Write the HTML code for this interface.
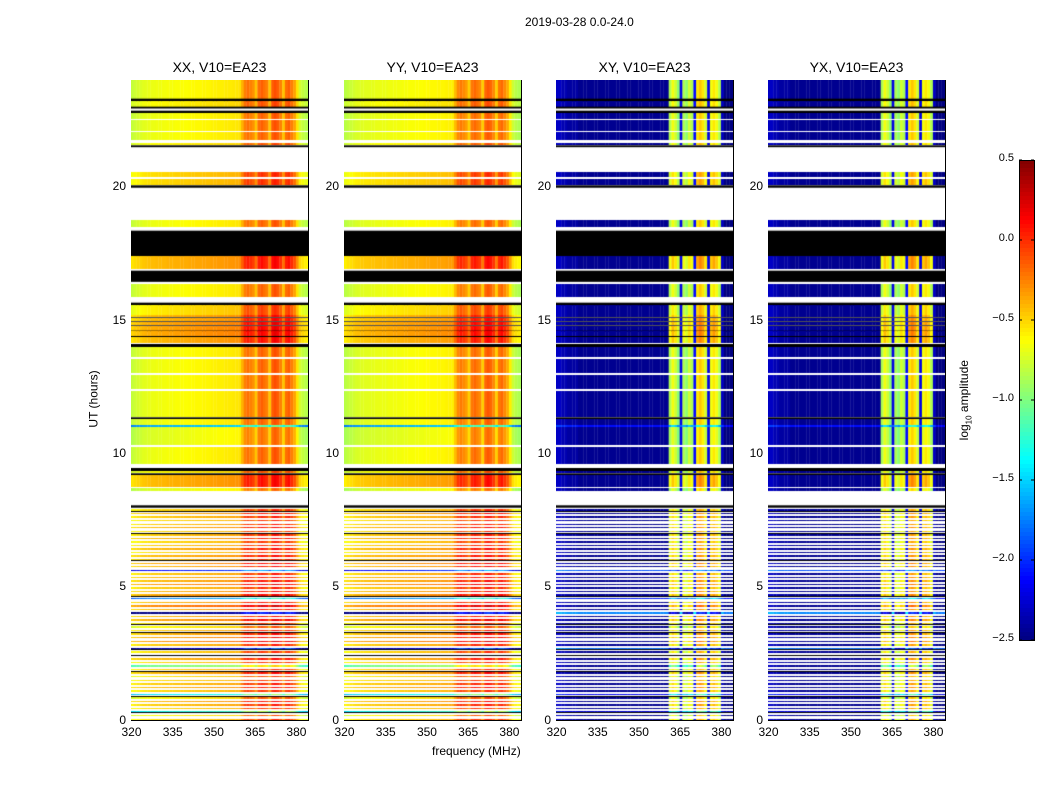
<!DOCTYPE html>
<html><head><meta charset="utf-8"><style>
body{margin:0;background:#fff;width:1050px;height:800px;position:relative;font-family:"Liberation Sans",sans-serif;overflow:hidden}
.t{position:absolute;font-size:12px;color:#000;white-space:nowrap}
canvas{position:absolute}
</style></head><body>
<div class="t" style="left:525px;top:15px">2019-03-28 0.0-24.0</div>
<div class="t" style="left:432px;top:744px">frequency (MHz)</div>
<div class="t" style="left:65px;top:392px;transform:rotate(-90deg)">UT (hours)</div>
<div class="t" style="left:925px;top:392px;transform:rotate(-90deg)">log<sub style="font-size:8px">10</sub> amplitude</div>
<svg id="cb" style="position:absolute;left:0;top:0" width="1050" height="800"></svg>
<script>
// ---- data ----
const panelTitles = ["XX, V10=EA23","YY, V10=EA23","XY, V10=EA23","YX, V10=EA23"];
const freqs = []; for (let f = 320; f <= 384; f++) freqs.push(f);
const freqXX = [-0.85,-0.82,-0.8,-0.78,-0.76,-0.75,-0.74,-0.73,-0.73,-0.72,-0.72,-0.71,-0.71,-0.7,-0.7,-0.7,-0.69,-0.69,-0.68,-0.68,-0.68,-0.67,-0.67,-0.66,-0.66,-0.66,-0.65,-0.65,-0.65,-0.64,-0.64,-0.63,-0.63,-0.63,-0.62,-0.62,-0.62,-0.61,-0.61,-0.6,
 -0.45,-0.3,-0.25,-0.3,-0.35,-0.5,-0.25,-0.2,-0.25,-0.3,-0.5,-0.2,-0.15,-0.2,-0.3,-0.5,-0.25,-0.2,-0.3,-0.4,-0.6,
 -0.8,-0.85,-0.88,-0.9];
const freqXY = [-2.3,-2.3,-2.35,-2.35,-2.4,-2.4,-2.4,-2.4,-2.45,-2.45,-2.45,-2.45,-2.45,-2.45,-2.45,-2.45,-2.45,-2.45,-2.45,-2.45,-2.45,-2.45,-2.45,-2.45,-2.45,-2.45,-2.45,-2.45,-2.45,-2.45,-2.45,-2.45,-2.45,-2.45,-2.45,-2.45,-2.45,-2.45,-2.45,-2.45,
 -2.45,-0.9,-0.7,-0.8,-1.0,-2.2,-0.9,-1.0,-0.8,-0.9,-2.1,-0.6,-0.5,-0.6,-0.8,-2.2,-0.7,-0.6,-0.7,-0.9,-2.3,
 -2.5,-2.5,-2.5,-2.5];
// segments: [hourStart, hourEnd, kind, rowLevel]  kind: d=data, w=white(flagged), k=black
const segments = [
 [23.3,24,'d',0.05],[23.2,23.3,'k',0],[23.0,23.2,'d',0.1],[22.95,23.0,'k',0],[22.85,22.95,'w',0],[22.78,22.85,'k',0],
 [22.55,22.78,'d',0.05],[22.5,22.55,'w',0],[22.1,22.5,'d',0.05],[22.05,22.1,'w',0],[21.75,22.05,'d',0.05],[21.65,21.75,'w',0],[21.55,21.65,'d',0.1],
 [21.5,21.55,'k',0],[20.55,21.5,'w',0],[20.35,20.55,'d',0.2],[20.3,20.35,'w',0],[20.05,20.3,'d',0.2],[19.98,20.05,'k',0],
 [18.75,19.98,'w',0],[18.5,18.75,'d',0.05],[18.35,18.5,'w',0],[17.4,18.35,'k',0],[16.9,17.4,'d',0.3],[16.85,16.9,'w',0],
 [16.45,16.85,'k',0],[16.35,16.45,'w',0],[15.85,16.35,'d',0.05],[15.65,15.85,'w',0],[15.55,15.65,'k',0],[15.2,15.55,'d',0.15],
 [15.1,15.2,'d',0.3],[15.07,15.1,'k',0],[14.95,15.07,'d',0.3],[14.92,14.95,'k',0],[14.8,14.92,'d',0.35],[14.77,14.8,'k',0],
 [14.6,14.77,'d',0.35],[14.57,14.6,'k',0],[14.4,14.57,'d',0.35],[14.37,14.4,'k',0],[14.15,14.37,'d',0.3],[14.1,14.15,'w',0],[14.0,14.1,'k',0],
 [13.6,14.0,'d',0.05],[13.55,13.6,'w',0],[13.0,13.55,'d',0.05],[12.95,13.0,'w',0],[12.4,12.95,'d',0.05],[12.35,12.4,'w',0],
 [11.35,12.35,'d',0.05],[11.3,11.35,'k',0],[11.05,11.3,'d',0.05],[11.0,11.05,'d',-0.9],[10.3,11.0,'d',0.0],[10.25,10.3,'w',0],
 [9.6,10.25,'d',0.05],[9.45,9.6,'w',0],[9.35,9.45,'k',0],[9.25,9.35,'d',0.1],[9.2,9.25,'k',0],[8.75,9.2,'d',0.3],[8.7,8.75,'w',0],[8.6,8.7,'d',0.0],
 [8.05,8.6,'w',0],[7.98,8.05,'k',0]
];
const lowLevels = [0.2,0.1,-0.6,0.2,0.25,0.3,0.1,-0.7,0.2,0.3,0.25,0.2,0.15,0.3,0.2,-0.3,0.2,0.3,0.35,0.2,-1.6,0.25,0.4,0.35,0.3,0.25,0.1,0.2,0.35,0.3,
 -1.8,0.3,0.45,0.3,-1.0,0.35,0.3,0.25,0.4,0.3,0.3,0.25,-1.4,0.3,0.35,0.25,0.3,0.2,0.3,0.25,0.2,0.3,0.25,0.2,0.3,0.25,0.2,0.25,0.3,0.2];
const lowBlack = [0.3,0.9,1.85,2.45,2.65,3.3,3.6,4.65,6.0,7.0,7.85];
const xTicks = [320,335,350,365,380];
const yTicks = [0,5,10,15,20];
const cbTicks = [0.5,0.0,-0.5,-1.0,-1.5,-2.0,-2.5];

// ---- drawing ----
const panelX = [131,344,556,768], PT = 80, PW = 177, PH = 640;
const fMin = 320, fMax = 384.4, hMin = 0, hMax = 24, vMin = -2.5, vMax = 0.5;
const xs = f => (f - fMin) / (fMax - fMin) * PW;
const ys = h => PH - (h - hMin) / (hMax - hMin) * PH;
function jet(v){
  let t = Math.max(0, Math.min(1, (v - vMin) / (vMax - vMin)));
  const c = x => Math.round(255 * Math.max(0, Math.min(1, x)));
  return `rgb(${c(1.5 - Math.abs(4*t - 3))},${c(1.5 - Math.abs(4*t - 2))},${c(1.5 - Math.abs(4*t - 1))})`;
}
function drawRow(ctx, h0, h1, lvl, cross){
  const y0 = Math.round(ys(h1)), y1 = Math.round(ys(h0));
  const hgt = Math.max(1, y1 - y0);
  for (let i = 0; i < freqs.length; i++){
    const v = cross ? freqXY[i] + (freqXY[i] > -1.5 ? lvl * 0.8 : (lvl < -0.5 ? -lvl*0.4 : 0)) : freqXX[i] + lvl;
    ctx.fillStyle = jet(v);
    const xa = xs(freqs[i]), xb = xs(Math.min(freqs[i] + 1, fMax));
    ctx.fillRect(xa, y0, xb - xa + 0.3, hgt);
  }
}
const svgNS = "http://www.w3.org/2000/svg";
const cb = document.getElementById('cb');
panelX.forEach((px, p) => {
  const cross = p >= 2;
  const cv = document.createElement('canvas');
  
  
  cv.width = PW; cv.height = PH;
  cv.style.left = px + 'px'; cv.style.top = PT + 'px';
  document.body.appendChild(cv);
  const ctx = cv.getContext('2d');
  ctx.fillStyle = '#fff'; ctx.fillRect(0,0,PW,PH);
  segments.forEach(s => {
    if (s[2] === 'd') drawRow(ctx, s[0], s[1], s[3] + (p===1 ? -0.03 : 0), cross);
    else if (s[2] === 'k'){ ctx.fillStyle = '#000'; ctx.fillRect(0, ys(s[1]), PW, ys(s[0]) - ys(s[1]) + 0.5); }
  });
  const per = 7.98 / lowLevels.length;
  lowLevels.forEach((l, i) => { drawRow(ctx, i*per, i*per + per*0.4, l, cross); });
  lowBlack.forEach(h => { ctx.fillStyle = '#000'; ctx.fillRect(0, Math.round(ys(h)), PW, 1); });
  // title
  const t = document.createElement('div');
  t.className = 't';
  
  
  t.style.cssText = `left:${px}px;width:${PW}px;text-align:center;top:59px;font-size:14px`;
  t.textContent = panelTitles[p];
  document.body.appendChild(t);
  // frame
  const r = document.createElementNS(svgNS, 'rect');
  
  
  r.setAttribute('x', px + 0.5); r.setAttribute('y', PT + 0.5);
  r.setAttribute('width', PW); r.setAttribute('height', PH);
  r.setAttribute('fill', 'none'); r.setAttribute('stroke', '#000');
  cb.appendChild(r);
  xTicks.forEach(f => {
    const x = px + xs(f) + 0.5;
    [[PT+PH, PT+PH-4],[PT, PT+4]].forEach(([a,b]) => {
      const l = document.createElementNS(svgNS, 'line');
      
      
      l.setAttribute('x1', x); l.setAttribute('x2', x); l.setAttribute('y1', a); l.setAttribute('y2', b);
      l.setAttribute('stroke', '#000'); cb.appendChild(l);
    });
    const lb = document.createElement('div');
    lb.className = 't';
    
    
    lb.style.cssText = `left:${x-20}px;width:40px;text-align:center;top:${PT+PH+5}px`;
    lb.textContent = f;
    document.body.appendChild(lb);
  });
  yTicks.forEach(h => {
    const y = PT + ys(h) + 0.5;
    [[px, px+4],[px+PW, px+PW-4]].forEach(([a,b]) => {
      const l = document.createElementNS(svgNS, 'line');
      
      
      l.setAttribute('x1', a); l.setAttribute('x2', b); l.setAttribute('y1', y); l.setAttribute('y2', y);
      l.setAttribute('stroke', '#000'); cb.appendChild(l);
    });
    const lb = document.createElement('div');
    lb.className = 't';
    
    
    lb.style.cssText = `left:${px-45}px;width:40px;text-align:right;top:${y-8}px`;
    lb.textContent = h;
    document.body.appendChild(lb);
  });
});
// colorbar
const CBX = 1019, CBT = 160, CBW = 15, CBH = 480;
const cy = v => CBT + (vMax - v) / (vMax - vMin) * CBH;
for (let i = 0; i < 120; i++){
  const v = vMax - (i + 0.5) / 120 * (vMax - vMin);
  const r = document.createElementNS(svgNS, 'rect');
  
  
  r.setAttribute('x', CBX); r.setAttribute('y', CBT + i * CBH / 120);
  r.setAttribute('width', CBW); r.setAttribute('height', CBH / 120 + 0.5);
  r.setAttribute('fill', jet(v)); cb.appendChild(r);
}
const cf = document.createElementNS(svgNS, 'rect');


cf.setAttribute('x', CBX + 0.5); cf.setAttribute('y', CBT + 0.5); cf.setAttribute('width', CBW); cf.setAttribute('height', CBH);
cf.setAttribute('fill', 'none'); cf.setAttribute('stroke', '#000'); cb.appendChild(cf);
cbTicks.forEach(v => {
  const y = cy(v);
  [[CBX, CBX+3],[CBX+CBW, CBX+CBW-3]].forEach(([a,b]) => {
    const l = document.createElementNS(svgNS, 'line');
    
    
    l.setAttribute('x1', a); l.setAttribute('x2', b); l.setAttribute('y1', y); l.setAttribute('y2', y);
    l.setAttribute('stroke', '#000'); cb.appendChild(l);
  });
  const lb = document.createElement('div');
  lb.className = 't';
  
  
  lb.style.cssText = `left:${CBX-60}px;width:55px;text-align:right;top:${y-8}px;font-size:11px`;
  lb.textContent = v.toFixed(1).replace('-', '\u2212');
  document.body.appendChild(lb);
});
</script>
</body></html>
